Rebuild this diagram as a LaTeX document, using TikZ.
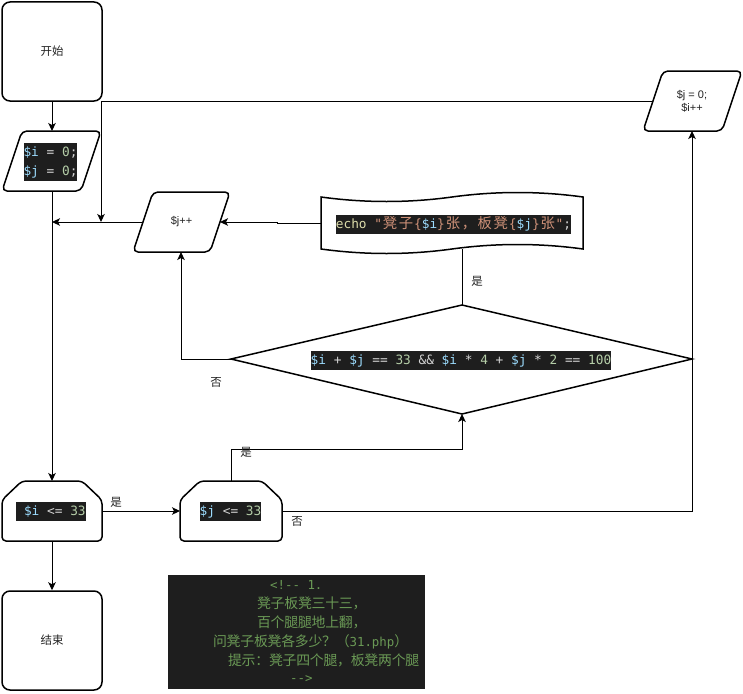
\documentclass[tikz,border=0pt]{standalone}
\usepackage{fontspec}
\setmainfont{Liberation Sans}
\setmonofont{DejaVu Sans Mono}
\newfontfamily\cjk{Noto Sans CJK SC}
\newfontfamily\cjkc{Noto Sans CJK SC}[Scale=1.12]
\usetikzlibrary{arrows.meta}
\definecolor{codebg}{HTML}{1E1E1E}
\definecolor{cvar}{HTML}{9CDCFE}
\definecolor{cnum}{HTML}{B5CEA8}
\definecolor{cop}{HTML}{D4D4D4}
\definecolor{cfn}{HTML}{DCDCAA}
\definecolor{cstr}{HTML}{CE9178}
\definecolor{ccom}{HTML}{6A9955}
\definecolor{lbltext}{HTML}{222222}
\def\cjwf{1.25}
\newcommand\CJ[1]{\cjkloop#1\relax}
\def\cjkloop#1{\ifx\relax#1\else\makebox[\cjwf em]{\cjkc #1}\expandafter\cjkloop\fi}
\begin{document}
\begin{tikzpicture}[x=1pt,y=-1pt,
  shp/.style={draw=black,line width=1.5pt,fill=white,rounded corners=5pt},
  term/.style={shp,rounded corners=8pt,minimum width=100pt,minimum height=99pt,font=\cjk\fontsize{11.5}{13}\selectfont,text=lbltext},
  con/.style={draw=black,line width=1pt},
  arr/.style={con,-{Stealth[length=8pt,width=7.5pt,inset=2pt]}},
  lbl/.style={font=\cjk\fontsize{11.5}{13}\selectfont,inner sep=0pt,text=lbltext},
  plain/.style={font=\fontsize{11}{13}\selectfont,inner sep=0pt,text=lbltext,align=center},
  code/.style={fill=codebg,text=cop,inner xsep=0pt,inner ysep=0.5pt,font=\ttfamily\fontsize{12.8}{19}\selectfont,text height=13pt,text depth=5pt},
  note/.style={inner sep=0pt,anchor=west,text=ccom,font=\ttfamily\fontsize{12.4}{14}\selectfont\def\cjwf{1.1}}
]
\useasboundingbox (0,0) rectangle (743,693);

% ---- shapes ----
\node[term] (start) at (52,51.5) {开始};
\node[term] (end) at (52,640.5) {结束};

% init parallelogram
\draw[shp] (22,131) -- (101,131) -- (81,191) -- (2,191) -- cycle;
\node[code] (i0) at (50.5,152.5) {\textcolor{cvar}{\$i} = \textcolor{cnum}{0};};
\node[code] (j0) at (50.5,171.5) {\textcolor{cvar}{\$j} = \textcolor{cnum}{0};};

% j++ parallelogram
\draw[shp] (153,192) -- (230,192) -- (210,252) -- (133,252) -- cycle;
\node[plain] (jpp) at (181.5,222) {\$j++};

% reset parallelogram
\draw[shp] (663,71) -- (742,71) -- (722,131) -- (643,131) -- cycle;
\node[plain] (reset) at (692,101) {\$j = 0;\\\$i++};

% tape (echo)
\draw[shp,rounded corners=0pt] (321,197) .. controls (364.7,203) and (408.3,203) .. (452,197)
  .. controls (495.7,191) and (539.3,191) .. (583,197) -- (583,249)
  .. controls (539.3,243) and (495.7,243) .. (452,249)
  .. controls (408.3,255) and (364.7,255) .. (321,249) -- cycle;
\node[code] (echo) at (453.5,224) {\textcolor{cfn}{echo} \textcolor{cstr}{"\CJ{凳子}\{}\textcolor{cvar}{\$i}\textcolor{cstr}{\}\CJ{张，板凳}\{}\textcolor{cvar}{\$j}\textcolor{cstr}{\}\CJ{张}"};};

% diamond
\draw[shp,rounded corners=0pt] (231,359) -- (462,305) -- (692,359) -- (462,414) -- cycle;
\node[code] (cond) at (461,360) {\textcolor{cvar}{\$i} + \textcolor{cvar}{\$j} == \textcolor{cnum}{33} \&\& \textcolor{cvar}{\$i} * \textcolor{cnum}{4} + \textcolor{cvar}{\$j} * \textcolor{cnum}{2} == \textcolor{cnum}{100}};

% loop limits
\draw[shp,rounded corners=4pt] (22,481) -- (82,481) -- (102,500) -- (102,541) -- (2,541) -- (2,500) -- cycle;
\node[code] (ilim) at (51,511.5) {\ \textcolor{cvar}{\$i} <= \textcolor{cnum}{33}};
\draw[shp,rounded corners=4pt] (200,481) -- (262,481) -- (282,500) -- (282,541) -- (180,541) -- (180,500) -- cycle;
\node[code] (jlim) at (230.5,511.5) {\textcolor{cvar}{\$j} <= \textcolor{cnum}{33}};

% comment block
\fill[codebg] (168,575) rectangle (425,689);
\begin{scope}
\clip (168,575) rectangle (425,689);
\node[note] (c1) at (270,585) {<!-{}- 1.};
\node[note] (c2) at (257,603.5) {\CJ{凳子板凳三十三，}};
\node[note] (c3) at (257,622.5) {\CJ{百个腿腿地上翻，}};
\node[note] (c4) at (213,641.5) {\CJ{问凳子板凳各多少？（}31.php\CJ{）}};
\node[note] (c5) at (228,660.5) {\CJ{提示：凳子四个腿，板凳两个腿}};
\node[note] (c6) at (290,679) {-{}->};
\end{scope}

% ---- anchor coordinates ----
\coordinate (initN) at (52,131);
\coordinate (initS) at (52,191);
\coordinate (ilimN) at (52,481);
\coordinate (ilimS) at (52,541);
\coordinate (ilimE) at (102,511);
\coordinate (jlimW) at (180,511);
\coordinate (jlimN) at (231,481);
\coordinate (jlimE) at (282,511);
\coordinate (diaW) at (231,359);
\coordinate (diaN) at (462,305);
\coordinate (diaS) at (462,414);
\coordinate (tapeW) at (321,223);
\coordinate (tapeS) at (462,248.5);
\coordinate (jppW) at (143,222);
\coordinate (jppE) at (220,222);
\coordinate (jppS) at (181,252);
\coordinate (resetW) at (653,101);
\coordinate (resetS) at (692,131);
\coordinate (mainJ) at (52,222);
\coordinate (bend1) at (231,449);
\coordinate (bend2) at (101,101);
\coordinate (bend3) at (277,223);
\coordinate (resetJ) at (101,222);

% ---- connectors ----
\draw[arr] (start.south) -- (initN);
\draw[arr] (initS) -- (ilimN);
\draw[arr] (ilimS) -- (end.north);
\draw[arr] (ilimE) -- (jlimW);
\draw[arr] (jlimN) -- (bend1) -| (diaS);
\draw[arr] (jlimE) -| (resetS);
\draw[arr] (diaW) -| (jppS);
\draw[con] (diaN) -- (tapeS);
\draw[arr] (tapeW) -- (bend3) |- (jppE);
\draw[arr] (jppW) -- (mainJ);
\draw[arr] (resetW) -- (bend2) -- (resetJ);

% ---- labels ----
\node[lbl] (yes1) at (116,502) {是};
\node[lbl] (yes2) at (246,452) {是};
\node[lbl] (yes3) at (477,281) {是};
\node[lbl] (no1) at (216,382) {否};
\node[lbl] (no2) at (297,521) {否};
\end{tikzpicture}
\end{document}
